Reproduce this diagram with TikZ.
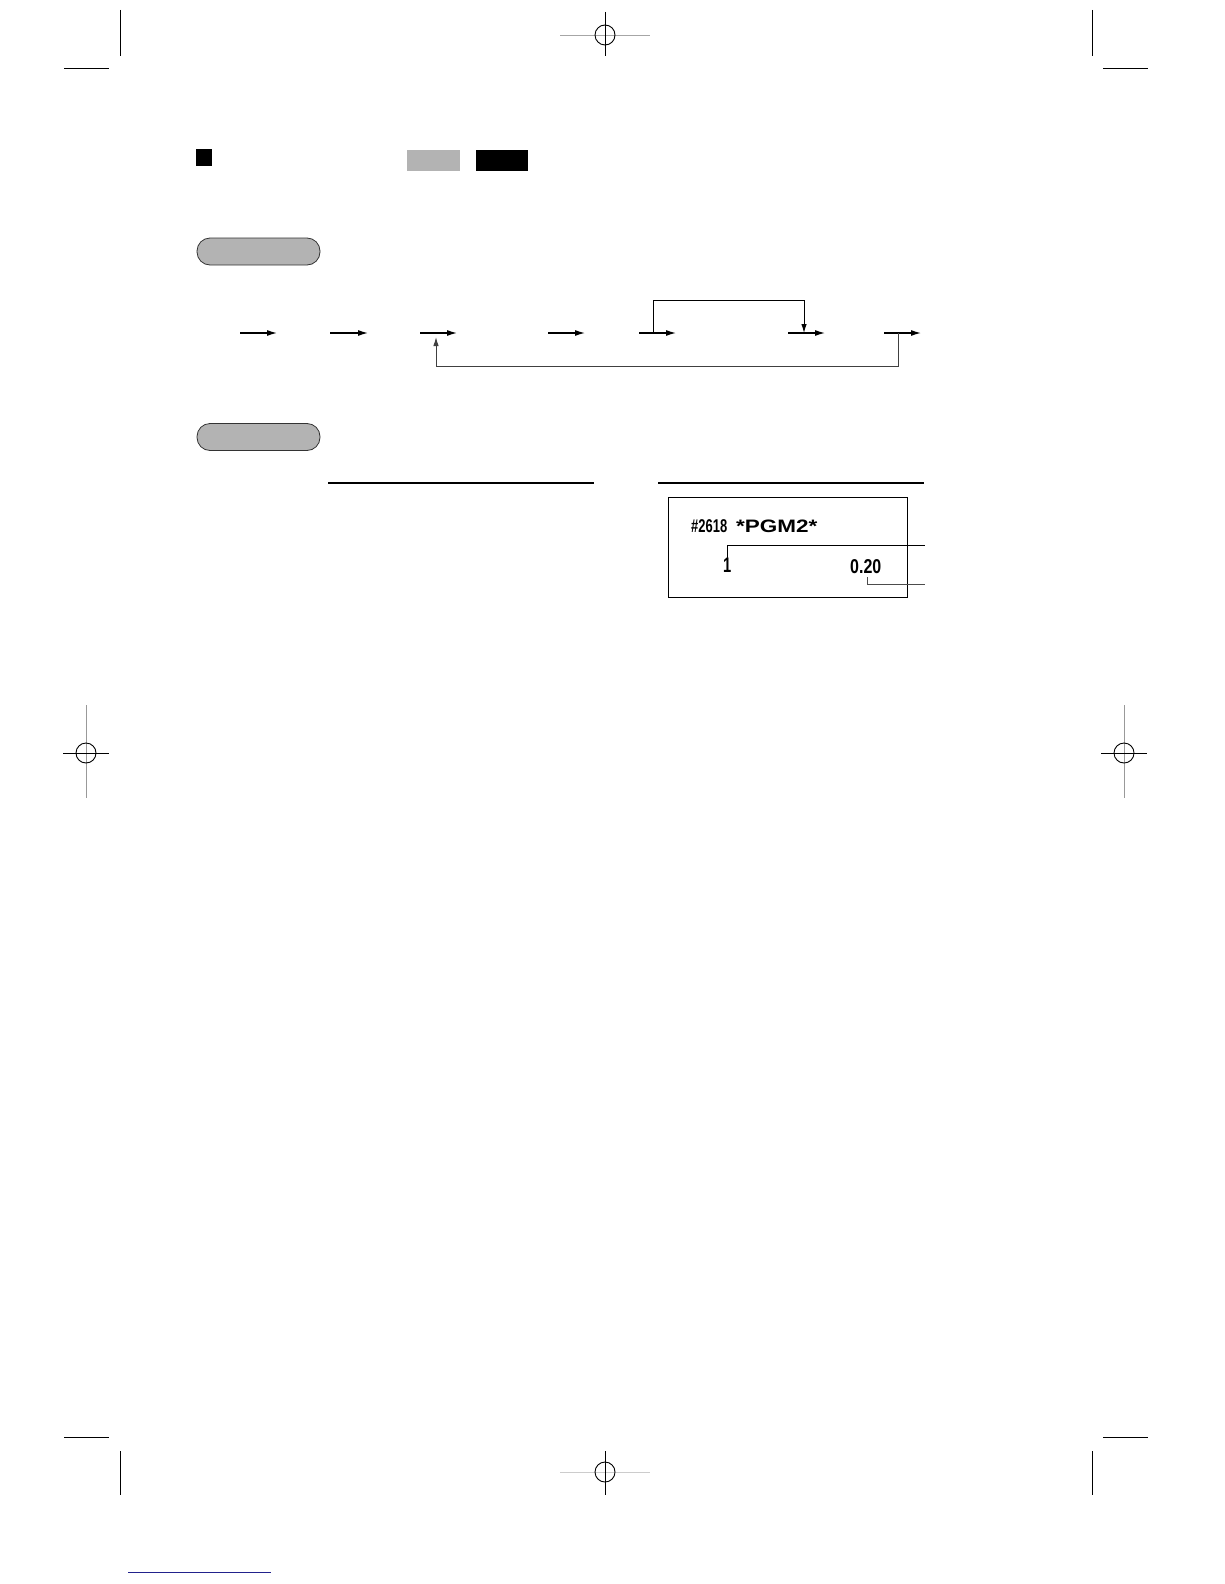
\documentclass[tikz,border=0pt]{standalone}
\usepackage{fontspec}
\usepackage{graphicx}
\setmainfont{Liberation Sans}
\usetikzlibrary{arrows.meta}

\definecolor{keygray}{HTML}{B3B3B3}
\definecolor{linkblue}{HTML}{22228C}

\tikzset{
  flow/.style={line width=1.2pt, -{Latex[length=10pt,width=6pt]}},
  loopback/.style={line width=1pt, -{Latex[length=9pt,width=5.5pt]}},
  pill/.style={draw=black!80, fill=keygray, rounded corners=13pt, minimum width=123pt, minimum height=27pt, inner sep=0pt, line width=0.8pt},
  crop/.style={line width=0.9pt},
  receipt/.style={inner sep=0pt, anchor=base west, font=\bfseries}
}

\begin{document}
\begin{tikzpicture}[x=1pt,y=-1pt]
\useasboundingbox (0,0) rectangle (1224,1584);

% Corner crop marks (top and bottom)
\foreach \cx/\hx in {120/64, 1092/1103}
{
  \draw[crop] (\cx,10) -- (\cx,56);
  \draw[crop] (\hx,68) -- (\hx+45,68);
  \draw[crop] (\cx,1451) -- (\cx,1495);
  \draw[crop] (\hx,1437) -- (\hx+45,1437);
}

% Registration marks (top/bottom centre)
\draw[crop, black!35] (560,35) -- (650,35);
\draw[crop] (605,12) -- (605,56);
\draw[crop] (605,35) circle (10);
\draw[crop, black!20] (560,1472) -- (650,1472);
\draw[crop] (605,1451) -- (605,1495);
\draw[crop] (605,1472) circle (10);

% Registration marks (left/right middle)
\foreach \rx in {86, 1124}
{
  \draw[crop, black!40] (\rx,705) -- (\rx,798);
  \draw[crop] (\rx-23,753) -- (\rx+23,753);
  \draw[crop] (\rx,753) circle (10);
}

% Heading bullet and mode boxes
\fill (196,149) rectangle (212,166);
\fill[keygray] (407,150) rectangle (460,171);
\fill (476,150) rectangle (528,171);

% Section pills
\node[pill] (procedure) at (258.5,251.5) {};
\node[pill] (example) at (258.5,437) {};

% Key sequence arrows
\foreach \i/\a/\b in {1/240/277, 2/330/368, 3/420/457, 4/548/585, 5/639/676, 6/788/825, 7/884/921}
{
  \coordinate (s\i) at (\a,333);
  \coordinate (e\i) at (\b,333);
  \draw[flow] (s\i) -- (e\i);
}

% Skip loop (over the top)
\coordinate (skipfrom) at (653,333);
\coordinate (skipto) at (804,333);
\draw[loopback] (skipfrom) -- ++(0,-33) -| (skipto);

% Repeat loop (underneath)
\coordinate (repfrom) at (898,333);
\coordinate (repto) at (436,337);
\draw[loopback, black!75] (repfrom) -- ++(0,33) -| (repto);

% Rule lines over key operation and print
\draw[line width=1.2pt] (328,483) -- (594,483);
\draw[line width=1.2pt] (658,483) -- (924,483);

% Receipt
\draw[line width=1pt] (668,497) rectangle (907,597);
\node[receipt] (number) at (691,532) {\fontsize{18.5}{18.5}\selectfont\scalebox{0.7}[1]{\#2618}};
\node[receipt] (mode) at (736,532) {\fontsize{18}{18}\selectfont\scalebox{1.25}[1]{*PGM2*}};
\node[receipt] (qty) at (723,572) {\fontsize{21}{21}\selectfont\scalebox{0.7}[1]{1}};
\node[receipt] (amount) at (850,573) {\fontsize{20}{20}\selectfont\scalebox{0.8}[1]{0.20}};

% Leader lines
\coordinate (lead1) at (925,545);
\coordinate (lead2a) at (867,577);
\coordinate (lead2b) at (925,584);
\draw[line width=0.9pt] (qty.north) ++(0,2) |- (lead1);
\draw[line width=0.9pt, black!70] (lead2a) |- (lead2b);

% Footer link line
\draw[linkblue, line width=1pt] (128,1572) -- (271,1572);

\end{tikzpicture}
\end{document}
